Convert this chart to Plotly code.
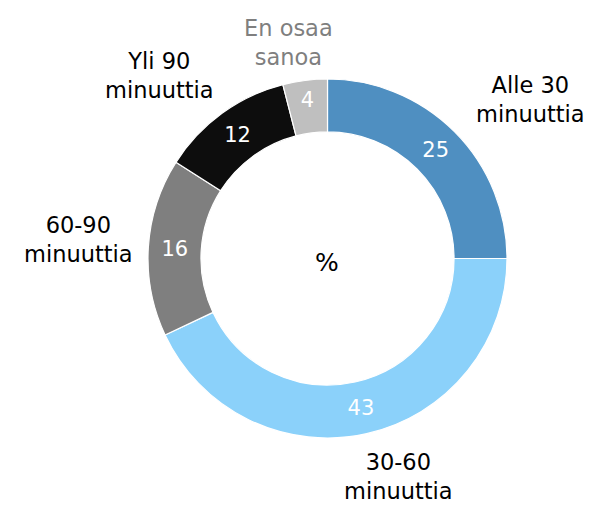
import plotly.graph_objects as go

categories = ["Alle 30 minuuttia", "30-60 minuuttia", "60-90 minuuttia", "Yli 90 minuuttia", "En osaa sanoa"]
values = [25, 43, 16, 12, 4]
colors = ["#4f8fc1", "#8bd1fa", "#7f7f7f", "#0d0d0d", "#bfbfbf"]
label_texts = ["Alle 30<br>minuuttia", "30-60<br>minuuttia", "60-90<br>minuuttia", "Yli 90<br>minuuttia", "En osaa<br>sanoa"]
label_colors = ["#000000", "#000000", "#000000", "#000000", "#7f7f7f"]
label_px = [(530, 99), (399, 476), (78, 240), (159, 76), (288, 43)]

W, H = 600, 514
OFF = 8  # page body margin
FONT = "DejaVu Sans, Verdana, sans-serif"


def px_x(x):
    return (x - OFF) / W


def px_y(y):
    return 1 - (y - OFF) / H


fig = go.Figure(go.Pie(
    labels=categories,
    values=values,
    marker=dict(colors=colors, line=dict(color="white", width=1.2)),
    hole=0.705,
    sort=False,
    direction="clockwise",
    rotation=0,
    textinfo="value",
    textposition="inside",
    insidetextorientation="horizontal",
    textfont=dict(family=FONT, size=21, color="white"),
    showlegend=False,
    hoverinfo="label+value",
    domain=dict(x=[px_x(148), px_x(507)], y=[px_y(438), px_y(79)]),
))

annotations = []
for t, c, (px, py) in zip(label_texts, label_colors, label_px):
    annotations.append(dict(
        text=t, x=px_x(px), y=px_y(py), xref="paper", yref="paper",
        showarrow=False, xanchor="center", yanchor="middle",
        font=dict(family=FONT, size=22.5, color=c),
    ))
annotations.append(dict(
    text="%", x=px_x(327), y=px_y(262), xref="paper", yref="paper",
    showarrow=False, xanchor="center", yanchor="middle",
    font=dict(family=FONT, size=25, color="black"),
))

fig.update_layout(
    width=W, height=H,
    margin=dict(l=0, r=0, t=0, b=0),
    paper_bgcolor="white", plot_bgcolor="white",
    annotations=annotations,
    font=dict(family=FONT),
)

fig.write_html("out.html")
